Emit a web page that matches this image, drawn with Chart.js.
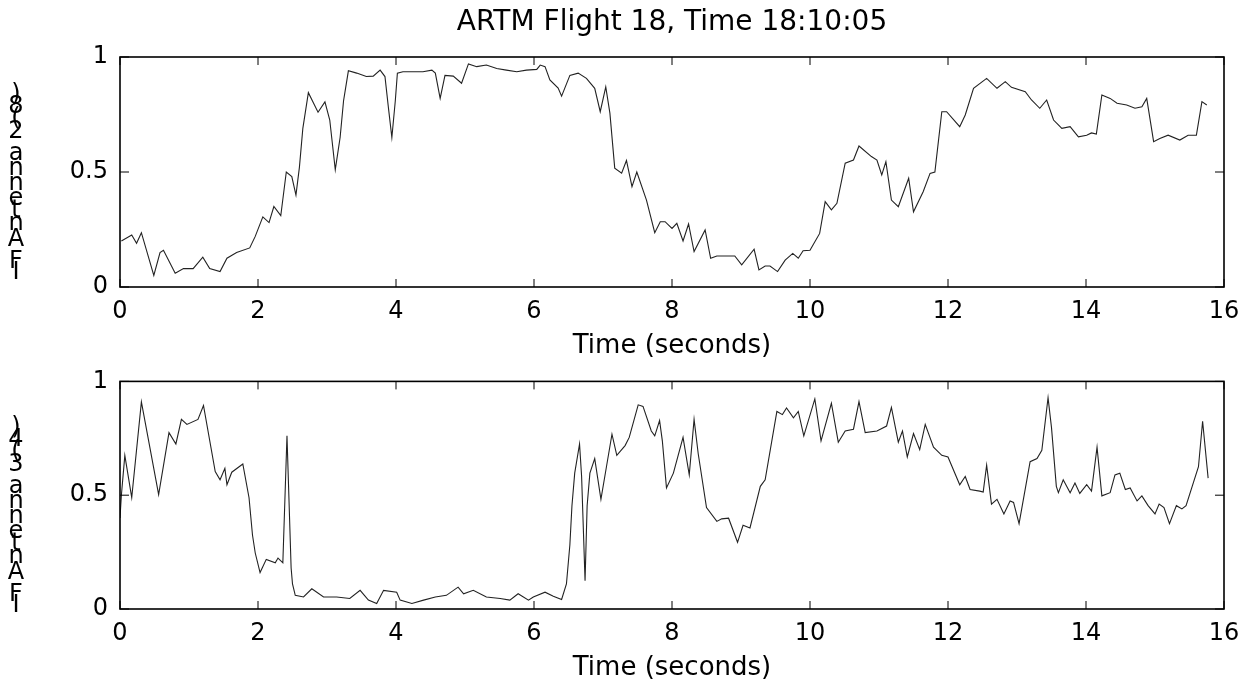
<!DOCTYPE html>
<html>
<head>
<meta charset="utf-8">
<title>ARTM Flight 18</title>
<script src="https://cdn.jsdelivr.net/npm/chart.js@4.4.1/dist/chart.umd.min.js"></script>
<style>
  body { margin: 0; background: #fff; }
  #top { position: absolute; left: 0; top: 0; }
  #bottom { position: absolute; left: 0; top: 355px; }
</style>
</head>
<body>
<canvas id="top" width="1251" height="365"></canvas>
<canvas id="bottom" width="1251" height="333"></canvas>
<script>
const titleText = "ARTM Flight 18, Time 18:10:05";
const xLabel = "Time (seconds)";
const yLabelTop = "IF Antenna 2(8)";
const yLabelBottom = "IF Antenna 3(4)";

// antenna 2(8)
const time1 = [0.02, 0.17, 0.24, 0.31, 0.49, 0.58, 0.63, 0.8, 0.92, 1.06, 1.2, 1.3, 1.45, 1.55, 1.69, 1.88, 1.96,
  2.07, 2.16, 2.23, 2.33, 2.41, 2.49, 2.55, 2.6, 2.65, 2.73, 2.87, 2.97, 3.04, 3.12, 3.19, 3.24, 3.31, 3.43, 3.57,
  3.67, 3.77, 3.84, 3.89, 3.94, 3.99, 4.02, 4.1, 4.39, 4.52, 4.57, 4.64, 4.71, 4.83, 4.95, 5.05, 5.17, 5.31, 5.46,
  5.6, 5.75, 5.89, 6.04, 6.09, 6.16, 6.23, 6.35, 6.4, 6.52, 6.64, 6.76, 6.88, 6.96, 7.04, 7.1, 7.17, 7.27, 7.34,
  7.42, 7.49, 7.63, 7.75, 7.83, 7.9, 8.0, 8.07, 8.16, 8.24, 8.32, 8.48, 8.56, 8.65, 8.91, 9.01, 9.19, 9.26, 9.35,
  9.42, 9.53, 9.64, 9.75, 9.83, 9.9, 10.0, 10.14, 10.22, 10.31, 10.39, 10.51, 10.63, 10.71, 10.89, 10.97, 11.04,
  11.1, 11.18, 11.28, 11.43, 11.5, 11.64, 11.74, 11.81, 11.91, 11.98, 12.17, 12.25, 12.37, 12.56, 12.71, 12.83,
  12.92, 13.12, 13.21, 13.33, 13.43, 13.53, 13.65, 13.77, 13.89, 14.01, 14.08, 14.15, 14.23, 14.35, 14.45, 14.59,
  14.71, 14.81, 14.88, 14.98, 15.07, 15.19, 15.36, 15.48, 15.6, 15.68, 15.75];
const amp1 = [0.2, 0.226, 0.19, 0.236, 0.05, 0.15, 0.16, 0.06, 0.08, 0.08, 0.13, 0.08, 0.067, 0.125, 0.15, 0.17, 0.22,
  0.305, 0.28, 0.35, 0.31, 0.5, 0.48, 0.4, 0.52, 0.69, 0.845, 0.76, 0.805, 0.726, 0.51, 0.65, 0.81, 0.94, 0.93, 0.915,
  0.917, 0.943, 0.915, 0.78, 0.65, 0.81, 0.93, 0.936, 0.936, 0.943, 0.93, 0.82, 0.92, 0.917, 0.886, 0.97, 0.958, 0.965, 0.95,
  0.943, 0.936, 0.943, 0.946, 0.965, 0.958, 0.9, 0.865, 0.83, 0.92, 0.93, 0.907, 0.864, 0.762, 0.87, 0.756, 0.517, 0.495, 0.55,
  0.436, 0.5, 0.378, 0.236, 0.284, 0.284, 0.255, 0.277, 0.2, 0.274, 0.154, 0.248, 0.125, 0.135, 0.135, 0.096, 0.164, 0.074, 0.091,
  0.091, 0.067, 0.117, 0.146, 0.125, 0.158, 0.16, 0.233, 0.371, 0.335, 0.364, 0.538, 0.552, 0.613, 0.567, 0.552, 0.487,
  0.545, 0.378, 0.349, 0.473, 0.327, 0.414, 0.494, 0.5, 0.762, 0.762, 0.697, 0.748, 0.864, 0.907, 0.864, 0.893,
  0.868, 0.849, 0.813, 0.777, 0.813, 0.726, 0.69, 0.697, 0.653, 0.66, 0.67, 0.665, 0.835, 0.82, 0.799, 0.791,
  0.777, 0.784, 0.82, 0.632, 0.646, 0.66, 0.639, 0.66, 0.66, 0.806, 0.791];

// antenna 3(4)
const time2 = [0.0, 0.02, 0.07, 0.17, 0.31, 0.56, 0.71, 0.81, 0.89, 0.97, 1.13, 1.21, 1.38, 1.45, 1.52, 1.55, 1.62,
  1.78, 1.87, 1.92, 1.96, 2.03, 2.12, 2.25, 2.29, 2.36, 2.42, 2.48, 2.5, 2.54, 2.66, 2.78, 2.95, 3.14, 3.33, 3.48,
  3.6, 3.72, 3.82, 4.01, 4.06, 4.23, 4.4, 4.57, 4.73, 4.9, 4.98, 5.12, 5.31, 5.51, 5.65, 5.77, 5.92, 5.99, 6.16,
  6.28, 6.4, 6.47, 6.52, 6.55, 6.59, 6.66, 6.69, 6.74, 6.77, 6.81, 6.88, 6.97, 7.05, 7.13, 7.2, 7.32, 7.38, 7.51,
  7.58, 7.7, 7.75, 7.82, 7.86, 7.92, 8.02, 8.16, 8.25, 8.32, 8.38, 8.5, 8.65, 8.72, 8.82, 8.95, 9.03, 9.13, 9.28,
  9.35, 9.52, 9.6, 9.66, 9.76, 9.83, 9.91, 10.07, 10.16, 10.31, 10.41, 10.51, 10.63, 10.71, 10.8, 10.97, 11.11,
  11.18, 11.28, 11.34, 11.41, 11.5, 11.59, 11.67, 11.79, 11.91, 12.0, 12.17, 12.25, 12.32, 12.46, 12.51, 12.56,
  12.63, 12.71, 12.81, 12.9, 12.95, 13.03, 13.19, 13.29, 13.36, 13.45, 13.5, 13.57, 13.6, 13.67, 13.77, 13.84,
  13.91, 14.01, 14.08, 14.16, 14.23, 14.35, 14.42, 14.49, 14.57, 14.64, 14.74, 14.81, 14.9, 15.0, 15.06, 15.13,
  15.21, 15.31, 15.39, 15.45, 15.63, 15.69, 15.77];
const amp2 = [0.4, 0.5, 0.675, 0.49, 0.91, 0.503, 0.775, 0.725, 0.833, 0.811, 0.833, 0.894, 0.604, 0.568, 0.618, 0.546, 0.601,
  0.637, 0.489, 0.325, 0.246, 0.16, 0.218, 0.203, 0.224, 0.203, 0.761, 0.18, 0.11, 0.06, 0.053, 0.089, 0.053, 0.053, 0.046, 0.082,
  0.039, 0.024, 0.082, 0.074, 0.039, 0.024, 0.039, 0.053, 0.06, 0.096, 0.067, 0.082, 0.053, 0.046, 0.039, 0.067, 0.039, 0.053, 0.074,
  0.056, 0.042, 0.11, 0.282, 0.454, 0.597, 0.725, 0.582, 0.124, 0.454, 0.597, 0.661, 0.482, 0.625, 0.768, 0.675, 0.718, 0.754, 0.897,
  0.89, 0.782, 0.761, 0.828, 0.739, 0.532, 0.597, 0.754, 0.589, 0.833, 0.682, 0.446, 0.385, 0.396, 0.399, 0.293, 0.368, 0.356, 0.539,
  0.568, 0.868, 0.854, 0.883, 0.84, 0.868, 0.761, 0.923, 0.739, 0.904, 0.733, 0.782, 0.79, 0.911, 0.775, 0.782, 0.804,
  0.886, 0.733, 0.782, 0.668, 0.771, 0.7, 0.811, 0.711, 0.675, 0.668, 0.546, 0.582, 0.525, 0.518, 0.514, 0.632,
  0.461, 0.482, 0.418, 0.475, 0.468, 0.375, 0.647, 0.661, 0.697, 0.928, 0.797, 0.539, 0.511, 0.568, 0.511, 0.554,
  0.508, 0.546, 0.518, 0.711, 0.497, 0.511, 0.589, 0.597, 0.525, 0.532, 0.475, 0.497, 0.454, 0.418, 0.461, 0.446,
  0.375, 0.454, 0.44, 0.454, 0.625, 0.825, 0.575];

const xTicks = [0, 2, 4, 6, 8, 10, 12, 14, 16];
const yTicks = [0, 0.5, 1];

const fontFamily = '"DejaVu Sans", "Liberation Sans", Arial, sans-serif';
Chart.defaults.font.family = fontFamily;
Chart.defaults.color = "#000";

// matlab style box, inward ticks, title over the axes and the odd stacked y label
const matlabFrame = {
    id: "matlabFrame",
    afterDatasetsDraw(chart, args, opts) {
        const ctx = chart.ctx;
        const a = chart.chartArea;
        const xs = chart.scales.x;
        const ys = chart.scales.y;
        ctx.save();
        ctx.strokeStyle = "#000";
        ctx.lineWidth = 1;
        xs.ticks.forEach((t) => {
            const px = xs.getPixelForValue(t.value);
            ctx.beginPath();
            ctx.moveTo(px, a.bottom);
            ctx.lineTo(px, a.bottom - 8);
            ctx.moveTo(px, a.top);
            ctx.lineTo(px, a.top + 8);
            ctx.stroke();
        });
        ys.ticks.forEach((t) => {
            const py = ys.getPixelForValue(t.value);
            ctx.beginPath();
            ctx.moveTo(a.left, py);
            ctx.lineTo(a.left + 9, py);
            ctx.moveTo(a.right, py);
            ctx.lineTo(a.right - 9, py);
            ctx.stroke();
        });
        ctx.lineWidth = 1.6;
        ctx.strokeRect(a.left, a.top, a.right - a.left, a.bottom - a.top);

        ctx.fillStyle = "#000";
        ctx.textAlign = "center";
        ctx.textBaseline = "middle";
        if (opts.title) {
            ctx.font = "28px " + fontFamily;
            ctx.fillText(opts.title, (a.left + a.right) / 2, a.top - 34);
        }

        // chars drawn upright but advanced along the rotated baseline
        ctx.font = "24px " + fontFamily;
        let y = opts.labelBottom;
        for (const ch of opts.label) {
            const w = ctx.measureText(ch).width;
            ctx.fillText(ch, 16, y - w / 2);
            y -= w;
        }
        ctx.restore();
    }
};

function makeOptions(title, padTop, padBottom, label, labelBottom) {
    return {
        responsive: false,
        animation: false,
        layout: { padding: { left: 0, right: 27, top: padTop, bottom: padBottom } },
        plugins: {
            legend: { display: false },
            tooltip: { enabled: false },
            matlabFrame: { title: title, label: label, labelBottom: labelBottom }
        },
        scales: {
            x: {
                type: "linear",
                min: 0,
                max: 16,
                afterBuildTicks: (scale) => { scale.ticks = xTicks.map(v => ({ value: v })); },
                afterFit: (scale) => { scale.height = 78; },
                grid: { display: false, drawTicks: false },
                border: { display: false },
                ticks: { font: { size: 24 }, padding: 10, maxRotation: 0, callback: (v) => String(v) },
                title: { display: true, text: xLabel, font: { size: 26 }, padding: { top: 0, bottom: 3.4 } }
            },
            y: {
                min: 0,
                max: 1,
                afterBuildTicks: (scale) => { scale.ticks = yTicks.map(v => ({ value: v })); },
                afterFit: (scale) => { scale.width = 120; },
                grid: { display: false, drawTicks: false },
                border: { display: false },
                ticks: { font: { size: 24 }, padding: 12, callback: (v) => String(v) }
            }
        }
    };
}

const topPlot = new Chart(document.getElementById("top").getContext("2d"), {
    type: "line",
    data: {
        datasets: [{
            label: yLabelTop,
            data: time1.map((t, i) => ({ x: t, y: amp1[i] })),
            borderColor: "#222",
            borderWidth: 1.1,
            pointRadius: 0,
            fill: false
        }]
    },
    options: makeOptions(titleText, 57, 0, yLabelTop, 276),
    plugins: [matlabFrame]
});

const bottomPlot = new Chart(document.getElementById("bottom").getContext("2d"), {
    type: "line",
    data: {
        datasets: [{
            label: yLabelBottom,
            data: time2.map((t, i) => ({ x: t, y: amp2[i] })),
            borderColor: "#222",
            borderWidth: 1.1,
            pointRadius: 0,
            fill: false
        }]
    },
    options: makeOptions(null, 21, 1, yLabelBottom, 254),
    plugins: [matlabFrame]
});
</script>
</body>
</html>
